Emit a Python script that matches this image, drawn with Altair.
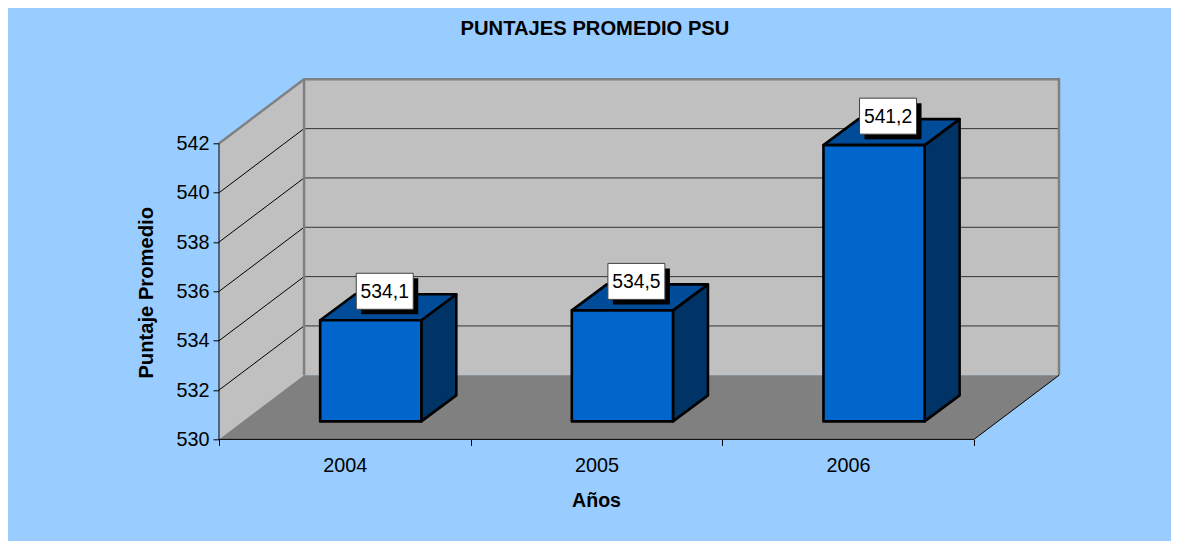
import altair as alt
import pandas as pd

years = ["2004", "2005", "2006"]
values = [534.1, 534.5, 541.2]
labels = ["534,1", "534,5", "541,2"]
y_ticks = [530, 532, 534, 536, 538, 540, 542]
x_ticks = [0, 0.5, 1, 1.5, 2, 2.5, 3]

BG = "#99CCFF"
WALL = "#C0C0C0"
FLOOR = "#808080"
FRONT = "#0066CC"
TOP = "#004C99"
SIDE = "#003366"
FONT = "Liberation Sans"

# 3-D geometry in data units (categories / score points)
Y0, Y1 = 530, 542
DX, DY = 0.338, 2.6      # wall depth
X_END = 3
BAR_L, BAR_W = 0.402, 0.402
BAR_DX, BAR_DY = 0.139, 1.054
BAR_LIFT = 0.73

xs = alt.Scale(domain=[0, X_END + DX], range=[0, 840], nice=False, zero=False)
ys = alt.Scale(domain=[Y0, Y1 + DY], range=[360.1, 0], nice=False, zero=False)

x_axis = alt.Axis(
    values=x_ticks, domain=False, grid=False, tickSize=6, tickColor="#000000",
    tickOpacity={"condition": {"test": "datum.value % 1 !== 0", "value": 0}, "value": 1},
    labelExpr="datum.value % 1 ? " + str(years) + "[floor(datum.value)] : ''",
    labelFont=FONT, labelFontSize=19.8, labelColor="#000000", labelPadding=10, labelAngle=0,
    labelOverlap=False, labelBound=False, labelFlush=False,
    titleFont=FONT, titleFontSize=19.6, titleFontWeight="bold", titleColor="#000000",
    titleX=377, titleY=52)
y_axis = alt.Axis(
    values=y_ticks, domain=False, grid=False, tickSize=6, tickColor="#000000",
    labelFont=FONT, labelFontSize=19.8, labelColor="#000000", labelPadding=4,
    labelOverlap=False, labelBound=False, labelFlush=False,
    titleFont=FONT, titleFontSize=20.2, titleFontWeight="bold", titleColor="#000000",
    titleX=-63, titleY=213)

X = alt.X("x:Q", scale=xs, title="Años", axis=x_axis)
Y = alt.Y("y:Q", scale=ys, title="Puntaje Promedio", axis=y_axis)
X2 = alt.X2("x2:Q")
Y2 = alt.Y2("y2:Q")


def vface(rows, **mark):
    return alt.Chart(pd.DataFrame(rows, columns=["x", "y", "y2"])).mark_area(
        orient="vertical", **mark).encode(X, Y, Y2)


def hface(rows, **mark):
    return alt.Chart(pd.DataFrame(rows, columns=["y", "x", "x2"])).mark_area(
        orient="horizontal", **mark).encode(X, X2, Y)


def seg(rows, **mark):
    df = pd.DataFrame(rows, columns=["g", "x", "y"])
    df["i"] = range(len(df))
    return alt.Chart(df).mark_line(**mark).encode(X, Y, alt.Detail("g:N"), alt.Order("i:Q"))


back = alt.Chart(pd.DataFrame([{"x": DX, "x2": X_END + DX, "y": Y0 + DY, "y2": Y1 + DY}])).mark_rect(
    color=WALL).encode(X, X2, Y, Y2)

left_wall = vface([[0, Y1, Y0], [DX, Y1 + DY, Y0 + DY]], color=WALL)
floor = hface([[Y0, 0, X_END], [Y0 + DY, DX, X_END + DX]], color=FLOOR)

back_grid = seg([[v, DX, v + DY] for v in y_ticks[1:-1]] + [[v, X_END + DX, v + DY] for v in y_ticks[1:-1]],
                color="#333333", strokeWidth=1)
side_grid = seg([[v, 0, v] for v in y_ticks[1:-1]] + [[v, DX, v + DY] for v in y_ticks[1:-1]],
                color="#000000", strokeWidth=1)
wall_edges = seg([
    ["a", 0, Y1], ["a", DX, Y1 + DY], ["a", X_END + DX, Y1 + DY], ["a", X_END + DX, Y0 + DY],
    ["b", DX, Y1 + DY], ["b", DX, Y0 + DY],
], color=FLOOR, strokeWidth=2.5)
black_edges = seg([
    ["l", 0, Y1], ["l", 0, Y0], ["l", X_END, Y0], ["l", X_END + DX, Y0 + DY],
], color="#000000", strokeWidth=1)

layers = [back, left_wall, floor, back_grid, side_grid, wall_edges, black_edges]

centers = []
for i, v in enumerate(values):
    l = i + BAR_L
    r = l + BAR_W
    b = Y0 + BAR_LIFT
    t = v + BAR_LIFT
    centers.append(l + BAR_W / 2)
    stroke = dict(stroke="#000000", strokeWidth=2.6, strokeJoin="round")
    layers.append(vface([[r, t, b], [r + BAR_DX, t + BAR_DY, b + BAR_DY]], color=SIDE, **stroke))
    layers.append(hface([[t, l, r], [t + BAR_DY, l + BAR_DX, r + BAR_DX]], color=TOP, **stroke))
    layers.append(vface([[l, t, b], [r, t, b]], color=FRONT, **stroke))

lab = pd.DataFrame({"x": centers, "y": [v + BAR_LIFT for v in values], "t": labels})
lab_base = alt.Chart(lab)
shadow = lab_base.mark_rect(width=57, height=36, color="#000000", xOffset=19, yOffset=-24).encode(X, Y)
box = lab_base.mark_rect(width=57, height=36, fill="#FFFFFF", stroke="#404040", strokeWidth=1,
                         xOffset=14, yOffset=-29).encode(X, Y)
txt = lab_base.mark_text(font=FONT, fontSize=19.3, color="#000000", dx=14, dy=-28.5, baseline="middle").encode(
    X, Y, text="t:N")
layers += [shadow, box, txt]

chart = alt.layer(*layers).properties(
    width=840,
    height=360.1,
    background=BG,
    padding={"left": 211, "top": 71.3, "right": 112, "bottom": 101.6},
    autosize=alt.AutoSizeParams(type="none"),
    title=alt.TitleParams("PUNTAJES PROMEDIO PSU", font=FONT, fontSize=20.2, fontWeight="bold", color="#000000",
                          anchor="middle", frame="group", dx=-44, offset=35),
).configure_view(stroke=None)

chart.save("out.html", embed_options={"renderer": "svg", "actions": False})
